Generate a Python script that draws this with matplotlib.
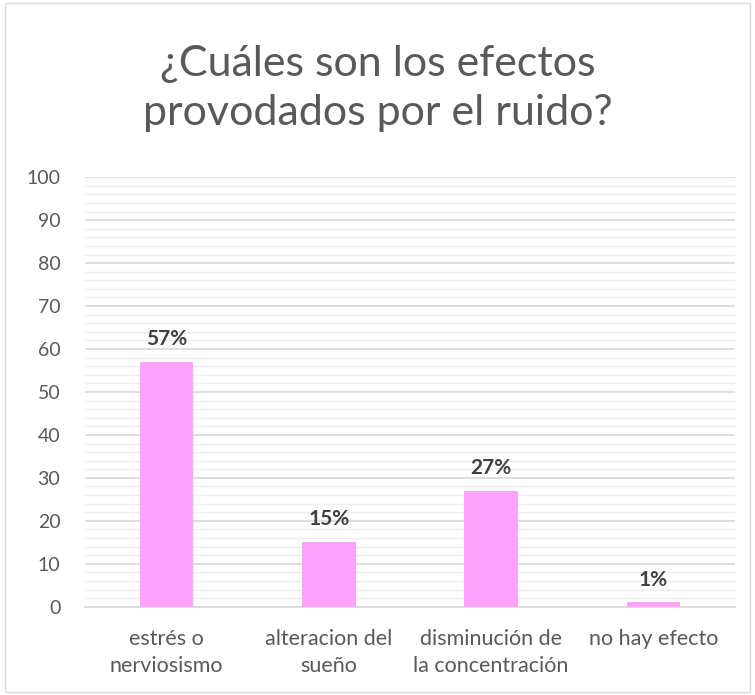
import numpy as np
import matplotlib
matplotlib.use("Agg")
from matplotlib import pyplot as plt
from matplotlib.patches import Rectangle

# Data
categories = ["estrés o\nnerviosismo", "alteracion del\nsueño",
              "disminución de\nla concentración", "no hay efecto"]
values = [57, 15, 27, 1]
labels = ["57%", "15%", "27%", "1%"]

plt.rcParams['font.family'] = ['Lato', 'DejaVu Sans']
text_color = '#595959'

fig = plt.figure(figsize=(7.55, 6.95), dpi=100)
ax = fig.add_axes([0.113, 0.127, 0.86, 0.618])

x = np.arange(len(categories))
ax.bar(x, values, width=0.33, color='#FFA3FF', zorder=3)

for xi, v, lab in zip(x, values, labels):
    ax.text(xi, v + 3, lab, ha='center', va='bottom', fontsize=15,
            fontweight='bold', color='#404040')

ax.set_xlim(-0.5, len(categories) - 0.5)
ax.set_ylim(0, 100)
ax.set_yticks(np.arange(0, 101, 10))
ax.set_yticks(np.arange(0, 101, 2), minor=True)
ax.set_xticks(x)
ax.set_xticklabels(categories, fontsize=15.5, color=text_color, linespacing=1.45)
ax.tick_params(axis='y', labelsize=14, labelcolor=text_color, length=0, pad=18)
ax.tick_params(axis='y', which='minor', length=0)
ax.tick_params(axis='x', length=0, pad=16)

ax.grid(axis='y', which='major', color='#d9d9d9', linewidth=1.2, zorder=0)
ax.grid(axis='y', which='minor', color='#eeeeee', linewidth=1.0, zorder=0)
for s in ['top', 'right', 'left']:
    ax.spines[s].set_visible(False)
ax.spines['bottom'].set_color('#d9d9d9')
ax.spines['bottom'].set_linewidth(1.2)

fig.text(0.5, 0.873, "¿Cuáles son los efectos\nprovodados por el ruido?",
         ha='center', va='center', fontsize=31, color=text_color, linespacing=1.35)

fig.patches.append(Rectangle((0.006, 0.005), 0.988, 0.99, transform=fig.transFigure,
                             fill=False, edgecolor='#d9d9d9', linewidth=1))

fig.savefig("out.png", dpi=100)
